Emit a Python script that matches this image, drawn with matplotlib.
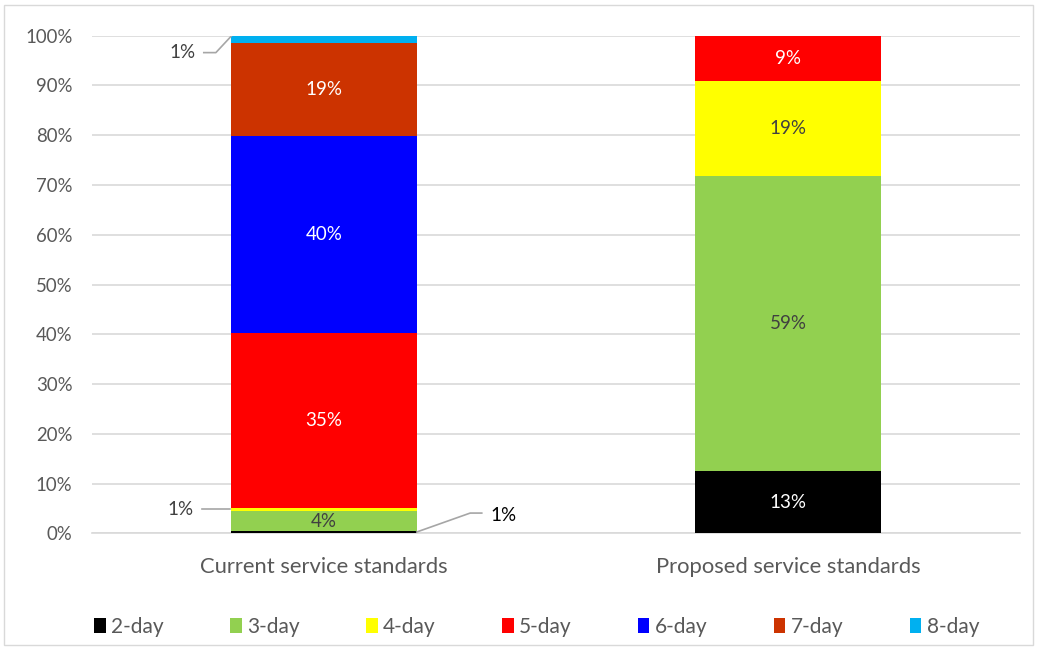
import matplotlib.pyplot as plt
from matplotlib.patches import Rectangle

categories = ['Current service standards', 'Proposed service standards']
series = ['2-day', '3-day', '4-day', '5-day', '6-day', '7-day', '8-day']
current = [0.5, 4.0, 0.6, 35.2, 39.6, 18.7, 1.4]
proposed = [12.6, 59.2, 19.1, 9.1, 0.0, 0.0, 0.0]
colors = ['#000000', '#92D050', '#FFFF00', '#FF0000', '#0000FF', '#CC3300', '#00B0F0']
yticks = [0, 10, 20, 30, 40, 50, 60, 70, 80, 90, 100]

plt.rcParams['font.family'] = ['Lato', 'DejaVu Sans']

fig = plt.figure(figsize=(10.38, 6.49), dpi=100)
ax = fig.add_axes([0.0886, 0.178, 0.8941, 0.767])

bottoms = [0.0, 0.0]
for i, name in enumerate(series):
    vals = [current[i], proposed[i]]
    ax.bar([0, 1], vals, width=0.4, bottom=bottoms, color=colors[i], label=name, zorder=3)
    for j in range(2):
        v = vals[j]
        if v >= 3:
            tc = '#404040' if colors[i] in ('#92D050', '#FFFF00') else 'white'
            ax.text(j, bottoms[j] + v / 2, f'{round(v)}%', ha='center', va='center',
                    color=tc, fontsize=13.5, zorder=4)
    bottoms = [bottoms[0] + vals[0], bottoms[1] + vals[1]]

# small segments labelled outside with leader lines
lc = '#A6A6A6'
ax.plot([-0.263, -0.203], [4.9, 4.9], color=lc, lw=1.2, zorder=4)
ax.text(-0.31, 4.9, '1%', ha='center', va='center', color='#404040', fontsize=13.5)
ax.plot([-0.259, -0.233, -0.2], [96.6, 96.6, 99.9], color=lc, lw=1.2, zorder=4)
ax.text(-0.304, 96.6, '1%', ha='center', va='center', color='#404040', fontsize=13.5)
ax.plot([0.2, 0.315, 0.34], [0.3, 4.1, 4.1], color=lc, lw=1.2, zorder=4)
ax.text(0.386, 3.7, '1%', ha='center', va='center', color='black', fontsize=13.5)

ax.set_xlim(-0.5, 1.5)
ax.set_ylim(0, 100)
ax.set_yticks(yticks)
ax.set_yticklabels([f'{t}%' for t in yticks], color='#595959', fontsize=13.4)
ax.set_xticks([0, 1])
ax.set_xticklabels(categories, color='#595959', fontsize=15.8)
ax.tick_params(length=0)
ax.tick_params(axis='y', pad=14)
ax.tick_params(axis='x', pad=17)
ax.grid(axis='y', color='#D9D9D9', lw=1.2, zorder=0)
for s in ['left', 'right', 'top']:
    ax.spines[s].set_visible(False)
ax.spines['bottom'].set_color('#D9D9D9')
ax.spines['bottom'].set_linewidth(1.2)

fig.legend(loc='center', bbox_to_anchor=(0.517, 0.034), ncol=7, frameon=False,
           fontsize=15, labelcolor='#595959', handlelength=0.55, handleheight=0.75,
           handletextpad=0.25, columnspacing=3.2)

fig.patches.append(Rectangle((0.004, 0.006), 0.991, 0.986, transform=fig.transFigure,
                             fill=False, edgecolor='#D9D9D9', lw=1))

fig.savefig('out.png', dpi=100)
